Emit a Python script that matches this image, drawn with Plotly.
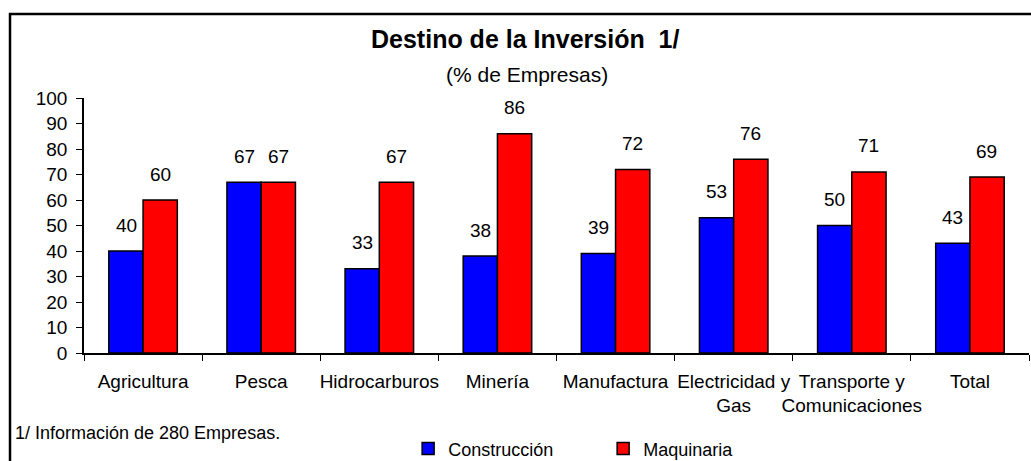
import plotly.graph_objects as go

sectores = ['Agricultura', 'Pesca', 'Hidrocarburos', 'Minería', 'Manufactura',
            'Electricidad y<br>Gas', 'Transporte y<br>Comunicaciones', 'Total']
construccion = [40, 67, 33, 38, 39, 53, 50, 43]
maquinaria = [60, 67, 67, 86, 72, 76, 71, 69]

fuente = 'Liberation Sans, Arial, sans-serif'

fig = go.Figure()
fig.add_trace(go.Bar(x=sectores, y=construccion, name='Construcción',
                     marker=dict(color='#0000FF', line=dict(color='black', width=1.5))))
fig.add_trace(go.Bar(x=sectores, y=maquinaria, name='Maquinaria',
                     marker=dict(color='#FF0000', line=dict(color='black', width=1.5))))

# etiquetas de valor sobre cada barra
for s, c, m in zip(sectores, construccion, maquinaria):
    fig.add_annotation(x=s, y=c, text=str(c), showarrow=False, xshift=-17, yshift=26,
                       font=dict(size=19, color='black', family=fuente))
    fig.add_annotation(x=s, y=m, text=str(m), showarrow=False, xshift=17, yshift=26,
                       font=dict(size=19, color='black', family=fuente))

fig.add_annotation(x=0.467, y=1.231, xref='paper', yref='paper', showarrow=False,
                   yanchor='middle', text='<b>Destino de la Inversión&nbsp; 1/</b>',
                   font=dict(size=25, color='black', family=fuente))
fig.add_annotation(x=0.469, y=1.094, xref='paper', yref='paper', showarrow=False,
                   yanchor='middle', text='(% de Empresas)',
                   font=dict(size=21, color='black', family=fuente))
fig.add_annotation(x=-0.075, y=-0.314, xref='paper', yref='paper', showarrow=False,
                   xanchor='left', yanchor='middle', text='1/ Información de 280 Empresas.',
                   font=dict(size=18, color='black', family=fuente))

# marco del grafico
fig.add_shape(type='rect', xref='paper', yref='paper', x0=-0.0783, x1=1.2, y0=-0.6, y1=1.329,
              line=dict(color='black', width=2.5))

fig.update_layout(
    width=1031, height=461,
    margin=dict(l=84, r=2, t=98, b=108, autoexpand=False),
    plot_bgcolor='white', paper_bgcolor='white',
    barmode='group', bargap=0.42, bargroupgap=0,
    font=dict(family=fuente, size=19, color='black'),
    showlegend=True,
    legend=dict(orientation='h', x=0.343, y=-0.376, xanchor='left', yanchor='middle',
                entrywidth=150, entrywidthmode='pixels', font=dict(size=18),
                bgcolor='rgba(0,0,0,0)'),
    xaxis=dict(showline=True, linecolor='black', linewidth=1.5, ticks='outside',
               tickson='boundaries', ticklen=6, tickcolor='black', showgrid=False,
               tickangle=0, automargin=False, tickfont=dict(size=19), ticklabelstandoff=10),
    yaxis=dict(range=[0, 100], dtick=10, showline=True, linecolor='black', linewidth=1.5,
               ticks='outside', ticklen=6, tickcolor='black', showgrid=False,
               automargin=False, zeroline=False, tickfont=dict(size=19), ticklabelstandoff=5),
)

fig.write_html('out.html', config={'displayModeBar': False},
               post_script="document.body.style.margin='0';")
